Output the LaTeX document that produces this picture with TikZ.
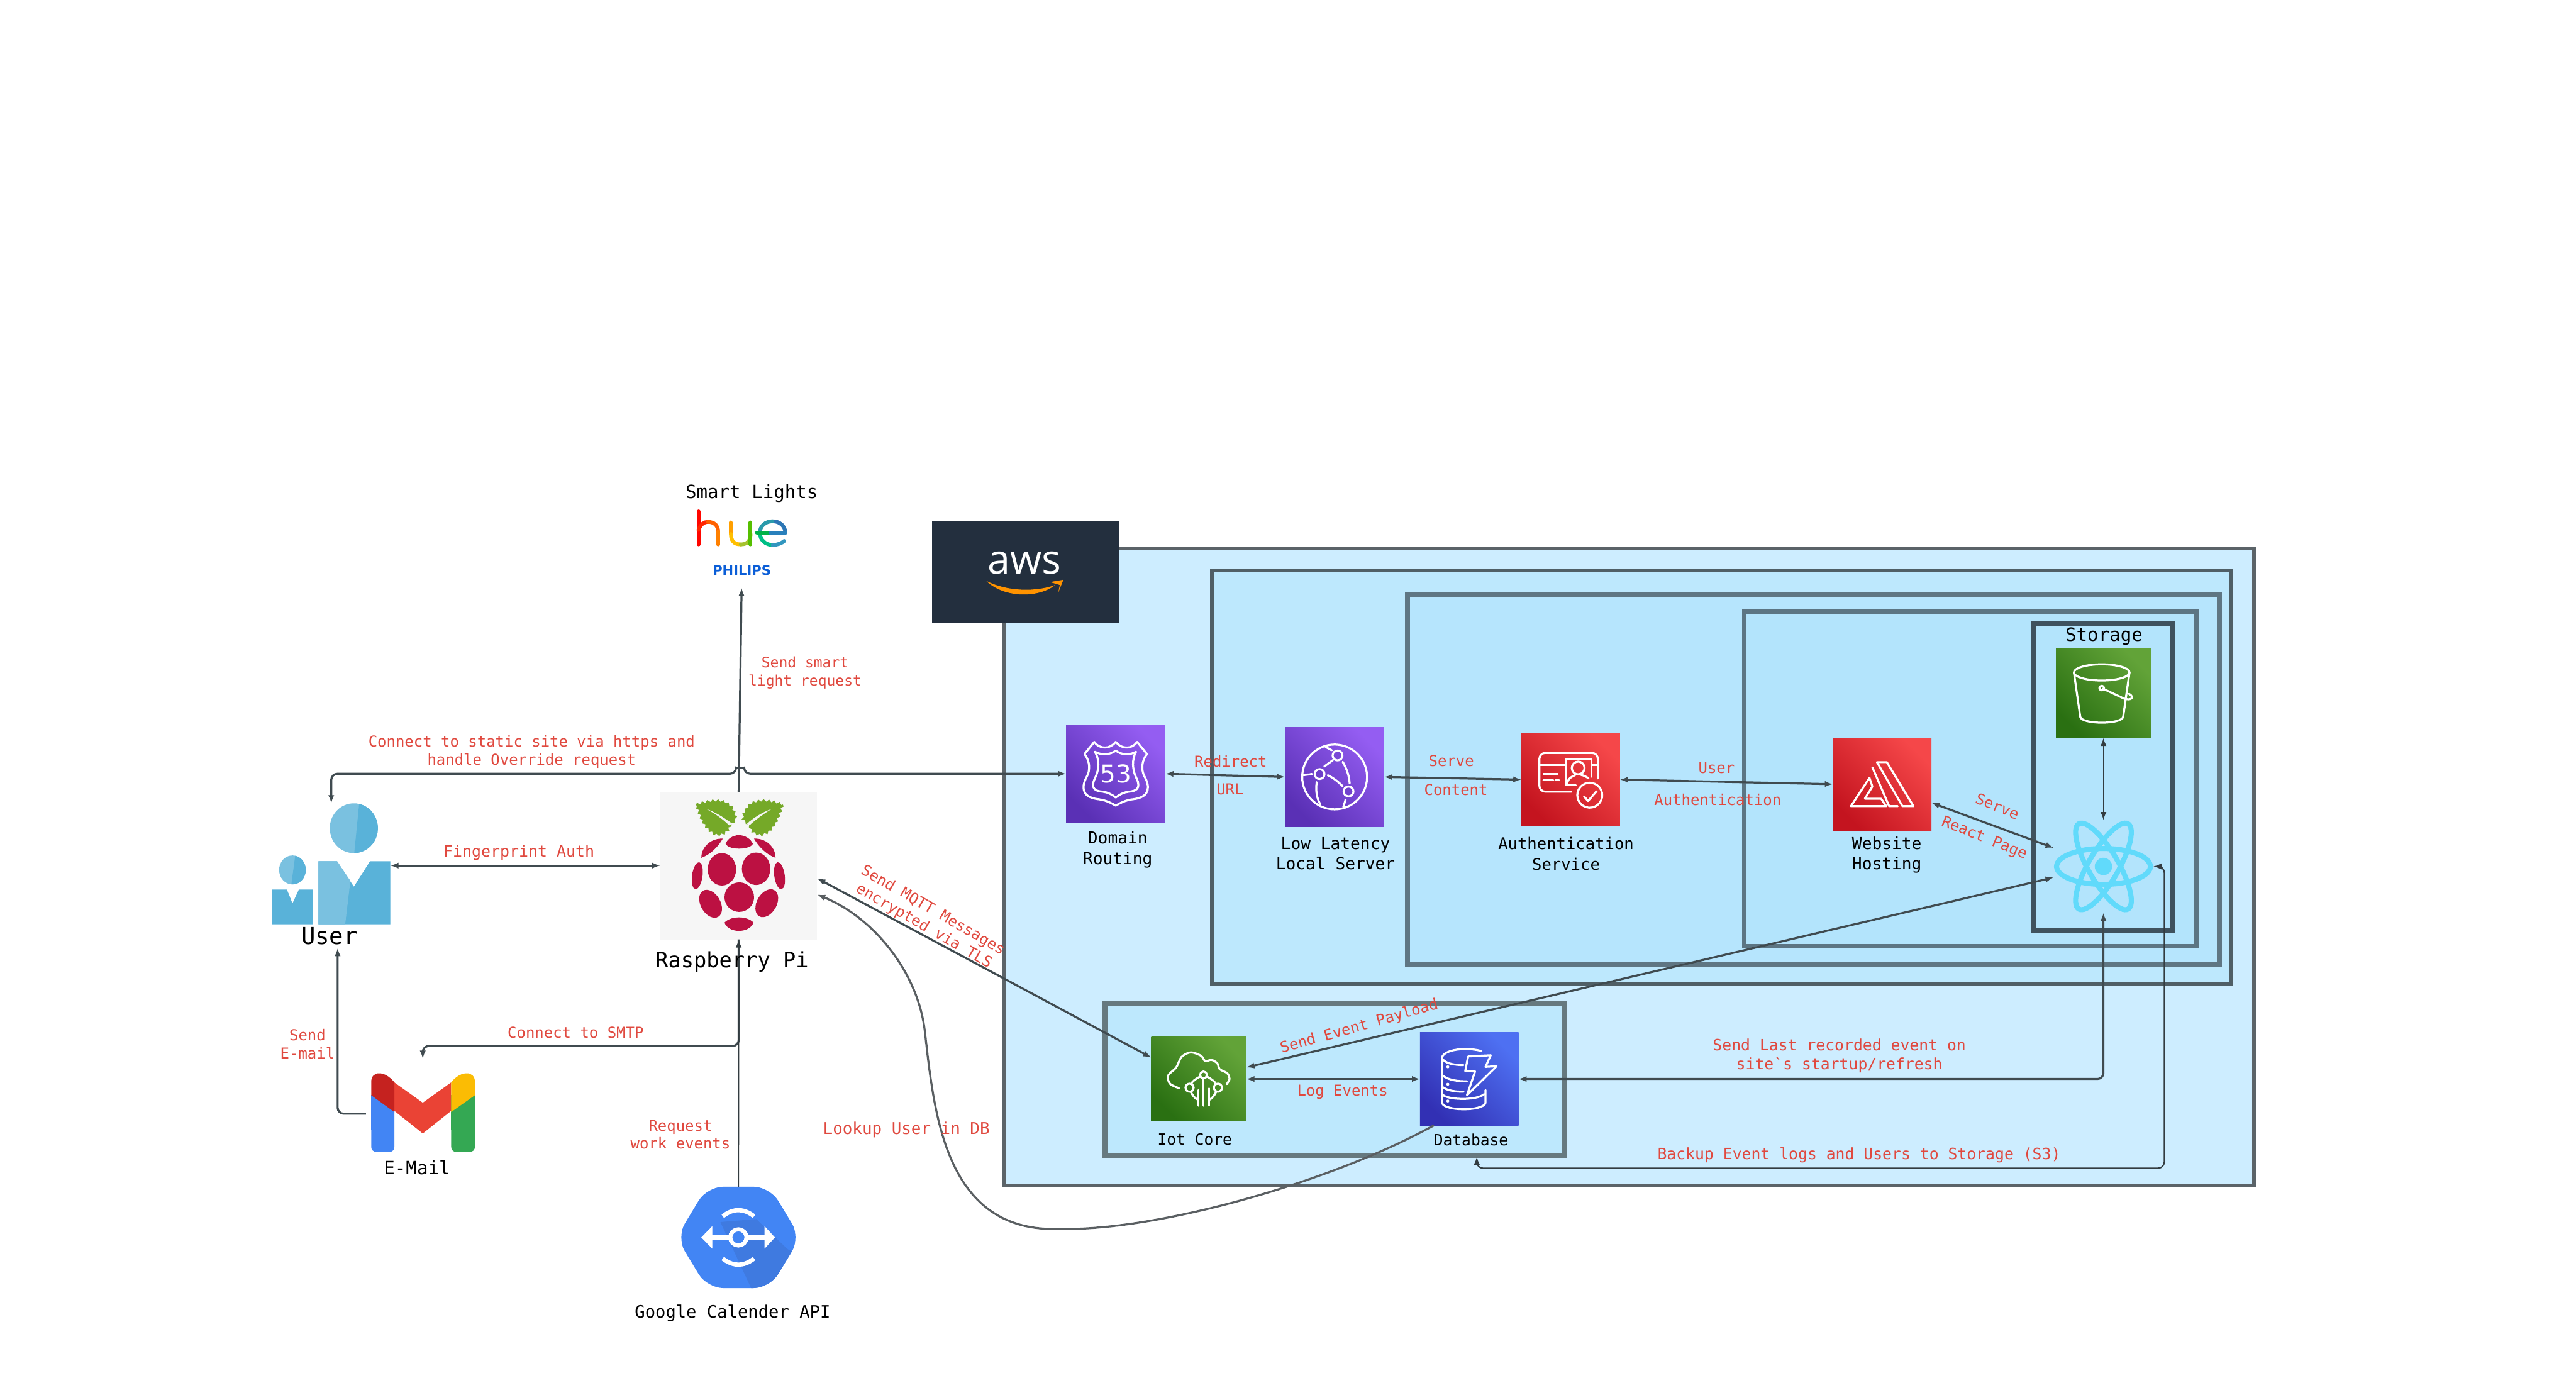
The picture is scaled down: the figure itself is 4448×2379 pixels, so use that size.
\documentclass[tikz,border=0pt]{standalone}
\usepackage{fontspec}
\setmainfont{DejaVu Sans Mono}
\newfontfamily\glyphfont{DejaVu Sans}
\newfontfamily\awsfont{Open Sans}
\usetikzlibrary{arrows.meta,decorations.pathmorphing}
\definecolor{lblred}{HTML}{E0493F}
\definecolor{connline}{HTML}{404B50}
\definecolor{curveline}{HTML}{5A5F62}
\definecolor{awsdark}{HTML}{232F3E}
\definecolor{userlight}{HTML}{7AC1E0}
\definecolor{userdark}{HTML}{59B2D9}
\definecolor{berry}{HTML}{BC1142}
\definecolor{leaf}{HTML}{75A928}
\definecolor{reactblue}{HTML}{61DAFB}
\definecolor{gblue}{HTML}{4285F4}
\definecolor{gblued}{HTML}{3F7AE0}
\definecolor{ggreen}{HTML}{34A853}
\definecolor{gred}{HTML}{EA4335}
\definecolor{gredd}{HTML}{C5221F}
\definecolor{gyellow}{HTML}{FBBC04}
\definecolor{purplelo}{HTML}{5A30B5}
\definecolor{purplehi}{HTML}{945DF2}
\definecolor{redlo}{HTML}{C4141F}
\definecolor{redhi}{HTML}{F54749}
\definecolor{greenlo}{HTML}{2A7012}
\definecolor{greenhi}{HTML}{62A338}
\definecolor{bluelo}{HTML}{3230B4}
\definecolor{bluehi}{HTML}{4E70F2}
\tikzset{
    lbl/.style={text=lblred, font=\fontsize{7.4}{8.9}\selectfont, align=center, inner sep=0pt, yshift=-0.3mm},
    capt/.style={text=black, font=\fontsize{8.1}{10}\selectfont, align=center, inner sep=0pt, yshift=-0.3mm},
    awsicon/.style n args={4}{minimum width=#1mm, minimum height=#2mm, inner sep=0pt, outer sep=0pt, bottom color=#3, top color=#4, shading angle=-45},
    spot/.style 2 args={minimum width=#1mm, minimum height=#2mm, inner sep=0pt, outer sep=0pt},
    conn/.style={draw=connline, line width=1pt, rounded corners=3pt},
    thinconn/.style={draw=connline!80!black, line width=0.65pt, rounded corners=3pt},
    glyph/.style={draw=white, line width=1pt, line cap=round, line join=round},
    huestroke/.style={line width=1.85pt, line cap=round},
}
\begin{document}
\begin{tikzpicture}[x=0.1mm, y=-0.1mm, >={Latex[length=4pt,width=3pt]}]
    \useasboundingbox (0,0) rectangle (4448,2379);
    \filldraw[fill=white, draw=none] (0,0) rectangle (4448,2379);

    \filldraw[fill={rgb,255:red,205;green,237;blue,255}, draw={rgb,255:red,91;green,99;blue,104}, line width=1.7pt] (1733,947) rectangle (3892,2047);
    \filldraw[fill={rgb,255:red,189;green,232;blue,253}, draw={rgb,255:red,80;green,95;blue,102}, line width=1.8pt] (2093,985) rectangle (3852,1698);
    \filldraw[fill={rgb,255:red,182;green,229;blue,253}, draw={rgb,255:red,95;green,118;blue,131}, line width=2.6pt] (2430,1027) rectangle (3832,1666);
    \filldraw[fill={rgb,255:red,179;green,228;blue,252}, draw={rgb,255:red,92;green,117;blue,131}, line width=2.1pt] (3012,1056) rectangle (3793,1634);
    \draw[draw={rgb,255:red,63;green,82;blue,94}, line width=2.5pt] (3512,1076) rectangle (3752,1607);
    \filldraw[fill={rgb,255:red,189;green,232;blue,253}, draw={rgb,255:red,102;green,121;blue,127}, line width=2.3pt] (1908,1732) rectangle (2702,1995);

    \fill[awsdark] (1609,899) rectangle (1933,1075);
    \node[text=white, inner sep=0pt, font=\awsfont\fontsize{20}{20}\selectfont] (awstxt) at (1769,972) {aws};
    \fill[orange!85!yellow] (1703,1003) .. controls (1740,1022) and (1790,1022) .. (1822,1010) .. controls (1795,1032) and (1735,1034) .. cycle;
    \fill[orange!85!yellow] (1813,1005) -- (1836,1001) -- (1827,1024) -- (1830,1010) -- cycle;

    \node[awsicon={17.1}{17.0}{purplelo}{purplehi}] (route) at (1926.5,1336) {};
    \node[awsicon={17.1}{17.1}{purplelo}{purplehi}] (cdn) at (2304.5,1341.5) {};
    \node[awsicon={17.0}{16.0}{redlo}{redhi}] (auth) at (2712,1346) {};
    \node[awsicon={17.0}{16.0}{redlo}{redhi}] (web) at (3250,1354) {};
    \node[awsicon={16.4}{15.4}{greenlo}{greenhi}] (bucket) at (3632,1197) {};
    \node[awsicon={16.4}{14.6}{greenlo}{greenhi}] (iot) at (2070,1863) {};
    \node[awsicon={17.0}{16.0}{bluelo}{bluehi}] (db) at (2537,1863) {};

    \begin{scope}[shift={(route.center)}]
        \draw[glyph] (-37,-55) .. controls (-28,-42) and (-10,-42) .. (0,-55) .. controls (10,-42) and (28,-42) .. (37,-55) -- (54,-34) .. controls (44,-22) and (44,-5) .. (50,5) .. controls (58,20) and (62,40) .. (30,44) .. controls (20,45) and (10,49) .. (0,55) .. controls (-10,49) and (-20,45) .. (-30,44) .. controls (-62,40) and (-58,20) .. (-50,5) .. controls (-44,-5) and (-44,-22) .. (-54,-34) -- cycle;
        \draw[glyph] (-36,-38) .. controls (-25,-32) and (-10,-32) .. (0,-40) .. controls (10,-32) and (25,-32) .. (35,-38) .. controls (28,-25) and (28,-8) .. (36,8) .. controls (44,25) and (36,30) .. (22,31) .. controls (14,32) and (6,36) .. (0,41) .. controls (-6,36) and (-14,32) .. (-22,31) .. controls (-36,30) and (-44,25) .. (-36,8) .. controls (-28,-8) and (-28,-25) .. (-36,-38) -- cycle;
        \node[text=white, inner sep=0pt, font=\glyphfont\fontsize{12}{12}\selectfont] (fiftythree) at (0,0) {53};
    \end{scope}

    \begin{scope}[shift={(cdn.center)}]
        \draw[glyph] (0,0) circle (56);
        \filldraw[glyph, fill=purplehi!55!purplelo] (5,-37) circle (8.5);
        \filldraw[glyph, fill=purplehi!35!purplelo] (-26,-5) circle (8.5);
        \filldraw[glyph, fill=purplehi!40!purplelo] (24,25) circle (8.5);
        \draw[glyph] (-3,-29) -- (-18,-18);
        \draw[glyph] (-12,-3) .. controls (-3,1) and (6,8) .. (14,16);
        \draw[glyph] (14,-26) .. controls (21,-14) and (25,-2) .. (26,11);
        \draw[glyph] (-55,-3) -- (-39,-5);
        \draw[glyph] (-31,9) .. controls (-33,24) and (-31,36) .. (-25,47);
        \draw[glyph] (19,39) -- (15,52);
        \draw[glyph] (-16,-52) -- (-5,-46);
    \end{scope}

    \begin{scope}[shift={(auth.center)}]
        \draw[glyph, rounded corners=3pt] (1,21) -- (-54,21) -- (-54,-46) -- (47,-46) -- (47,-2);
        \draw[glyph] (-54,-25) -- (-8,-25);
        \draw[glyph] (37,-25) -- (47,-25);
        \draw[glyph] (36,-5) -- (36,-36) -- (-8,-36) -- (-8,10) -- (9,10);
        \draw[glyph] (13,-20) circle (11);
        \draw[glyph] (-6,9) .. controls (-6,-4) and (6,-6) .. (8,-8);
        \draw[glyph] (18,-8) .. controls (24,-7) and (28,-4) .. (31,-2);
        \draw[glyph] (-47,-10) -- (-22,-10);
        \draw[glyph] (-47,1) -- (-30,1);
        \draw[glyph] (-26,1) -- (-20,1);
        \draw[glyph] (33,27) circle (21.5);
        \draw[glyph] (23,29) -- (30,37) -- (45,20);
    \end{scope}

    \begin{scope}[shift={(web.center)}]
        \draw[glyph] (-9,-38) -- (8,-38) -- (54,38) -- (35,38) -- cycle;
        \draw[glyph] (-17,-29) -- (12,38) -- (27,38);
        \draw[glyph] (-22,-11) -- (-54,38) -- (7,38) -- (-2,25) -- (-30,25) -- (-17,4) -- cycle;
    \end{scope}

    \begin{scope}[shift={(bucket.center)}]
        \draw[glyph] (-3,-36) ellipse [x radius=48, y radius=14];
        \draw[glyph] (-51,-36) -- (-40,41) .. controls (-36,54) and (30,54) .. (34,41) -- (45,-36);
        \draw[glyph] (-3,-9) circle (4);
        \draw[glyph] (-1,-8) -- (35,9) .. controls (49,14) and (54,6) .. (44,1);
    \end{scope}

    \begin{scope}[shift={(iot.center)}]
        \draw[glyph] plot[smooth] coordinates {(-34,16) (-50,8) (-53,-6) (-39,-20) (-30,-38) (-14,-46) (4,-40) (11,-31) (22,-33) (32,-27) (36,-17) (49,-10) (53,0) (48,9)};
        \draw[glyph] (8,-7) circle (6);
        \draw[glyph] (-16,15) circle (7);
        \draw[glyph] (33,15) circle (7);
        \draw[glyph] (2,-4) .. controls (-6,0) and (-11,4) .. (-13,8);
        \draw[glyph] (14,-4) .. controls (22,0) and (27,4) .. (29,8);
        \draw[glyph] (8,-1) -- (8,46);
        \draw[glyph] (-1,19) -- (-1,46);
        \draw[glyph] (18,16) -- (18,46);
        \draw[glyph] (-14,22) .. controls (-10,30) and (-6,34) .. (-1,36);
        \draw[glyph] (30,22) .. controls (26,30) and (22,34) .. (18,36);
    \end{scope}

    \begin{scope}[shift={(db.center)}]
        \draw[glyph] (21,-48) .. controls (5,-54) and (-40,-54) .. (-47,-38) -- (-47,41) .. controls (-44,56) and (25,56) .. (28,41) -- (28,19);
        \draw[glyph] (-45,-33) .. controls (-38,-26) and (-24,-24) .. (-10,-24);
        \draw[glyph] (-46,-6) .. controls (-36,2) and (-20,4) .. (-4,4);
        \draw[glyph] (-46,14) .. controls (-38,20) and (-24,22) .. (-10,22);
        \draw[glyph] (-46,27) .. controls (-38,36) and (12,38) .. (26,26);
        \fill[white] (-37,-21) circle (2.6);
        \fill[white] (-37,9) circle (2.6);
        \fill[white] (-37,38) circle (2.6);
        \draw[glyph] (-2,-39) -- (37,-41) -- (28,-21) -- (47,-22) -- (-4,28) -- (10,-13) -- (-7,-14) -- cycle;
    \end{scope}

    \node[spot={20.4}{20.9}] (user) at (572,1491.5) {};
    \fill[userlight] (505,1502) ellipse [x radius=23, y radius=25];
    \begin{scope}
        \clip (505,1502) ellipse [x radius=23, y radius=25];
        \fill[userdark] (510,1476) -- (530,1476) -- (530,1528) -- (503,1528) -- cycle;
    \end{scope}
    \fill[userdark] (470,1536) -- (495.5,1536) -- (505,1560) -- (516,1536) -- (540,1536) -- (540,1596) -- (470,1596) -- cycle;
    \fill[userlight] (611,1430) ellipse [x radius=41.5, y radius=43];
    \begin{scope}
        \clip (611,1430) ellipse [x radius=41.5, y radius=43];
        \fill[userdark] (621,1380) -- (660,1380) -- (660,1480) -- (611,1480) -- cycle;
    \end{scope}
    \fill[userdark] (550,1487) -- (582,1487) -- (611,1531) -- (639,1487) -- (674,1487) -- (674,1596) -- (550,1596) -- cycle;
    \fill[userlight] (550,1487) -- (582,1487) -- (605,1521) -- (596,1596) -- (550,1596) -- cycle;

    \node[spot={27.1}{25.5}, fill={rgb,255:red,246;green,246;blue,246}] (pi) at (1275.5,1494.5) {};
    \fill[leaf, decorate, decoration={zigzag, segment length=2.6pt, amplitude=0.6pt}] (1202,1389) .. controls (1220,1382) and (1245,1378) .. (1258,1388) .. controls (1268,1396) and (1272,1408) .. (1270,1416) -- (1265,1422) -- (1260,1427) .. controls (1258,1436) and (1250,1441) .. (1240,1442) .. controls (1225,1440) and (1212,1425) .. (1202,1389) -- cycle;
    \fill[leaf, decorate, decoration={zigzag, segment length=2.6pt, amplitude=0.6pt}] (1352,1389) .. controls (1334,1382) and (1309,1378) .. (1296,1388) .. controls (1286,1396) and (1281,1408) .. (1283,1416) -- (1290,1422) -- (1294,1427) .. controls (1296,1436) and (1304,1441) .. (1314,1442) .. controls (1329,1440) and (1342,1425) .. (1352,1389) -- cycle;
    \fill[white!96!black] (1220,1397) .. controls (1235,1402) and (1252,1413) .. (1264,1422) -- (1259,1425) .. controls (1248,1414) and (1235,1405) .. cycle;
    \fill[white!96!black] (1332,1397) .. controls (1317,1402) and (1300,1413) .. (1290,1422) -- (1294,1425) .. controls (1306,1414) and (1319,1405) .. cycle;
    \fill[berry] (1253,1457) .. controls (1256,1448) and (1266,1442) .. (1276,1442) .. controls (1286,1442) and (1296,1448) .. (1300,1457) .. controls (1294,1468) and (1258,1468) .. cycle;
    \fill[berry] (1211,1481) .. controls (1211,1462) and (1228,1447) .. (1248,1448) .. controls (1240,1462) and (1226,1476) .. cycle;
    \fill[berry] (1339,1481) .. controls (1339,1462) and (1322,1447) .. (1302,1448) .. controls (1310,1462) and (1324,1476) .. cycle;
    \fill[berry] (1246.5,1501) ellipse [x radius=24.5, y radius=28];
    \fill[berry] (1305.5,1500) ellipse [x radius=24.5, y radius=28];
    \fill[berry] (1276.5,1549) circle (25.5);
    \fill[berry, rotate around={30:(1227,1560.5)}] (1227,1560.5) ellipse [x radius=17, y radius=26];
    \fill[berry, rotate around={-30:(1324,1559.5)}] (1324,1559.5) ellipse [x radius=17, y radius=26];
    \fill[berry, rotate around={-8:(1204,1512)}] (1204,1512) ellipse [x radius=9, y radius=23.5];
    \fill[berry, rotate around={8:(1346,1512)}] (1346,1512) ellipse [x radius=9, y radius=23.5];
    \fill[berry] (1251,1593) .. controls (1262,1581) and (1290,1581) .. (1301,1593) .. controls (1294,1612) and (1258,1612) .. cycle;

    \node[spot={15.5}{13.4}] (hue) at (1280.5,948) {};
    \draw[huestroke, color=red!95!orange] (1206,883) -- (1206,940);
    \draw[huestroke, color=red!70!orange] (1206,915) .. controls (1210,905) and (1216,901) .. (1222,901);
    \draw[huestroke, color=red!25!orange] (1222,901) .. controls (1234,901) and (1240,908) .. (1240,918);
    \draw[huestroke, color=orange] (1240,918) -- (1240,940);
    \draw[huestroke, color=orange!75!yellow] (1262,902) -- (1262,922);
    \draw[huestroke, color=orange!50!yellow] (1262,922) .. controls (1262,934) and (1268,940) .. (1279,940);
    \draw[huestroke, color=yellow!70!green!85!black] (1279,940) .. controls (1290,940) and (1296,934) .. (1296,922);
    \draw[huestroke, color=green!55!yellow!75!black] (1296,902) -- (1296,940);
    \draw[huestroke, color=cyan!60!blue!85!black] (1356,920) .. controls (1356,908) and (1346,900) .. (1334,900);
    \draw[huestroke, color=cyan!75!green!80!black] (1334,900) .. controls (1322,900) and (1312,908) .. (1312,920);
    \draw[huestroke, color=green!30!cyan!75!black] (1312,920) .. controls (1312,932) and (1322,941) .. (1334,941);
    \draw[huestroke, color=cyan!75!black] (1334,941) .. controls (1342,941) and (1350,938) .. (1354,934);
    \draw[huestroke, color=green!60!cyan!70!black] (1307,920) -- (1330,920);
    \draw[huestroke, color=cyan!70!blue!85!black] (1330,920) -- (1356,920);
    \node[text={rgb,255:red,11;green,94;blue,215}, inner sep=0pt, font=\glyphfont\bfseries\fontsize{6.5}{7}\selectfont] (philips) at (1281,984.5) {PHILIPS};

    \node[spot={17.9}{13.5}] (mail) at (730.5,1921.5) {};
    \fill[gblue, rounded corners=2.5pt] (641,1891) -- (681,1891) -- (681,1989) -- (641,1989) -- cycle;
    \fill[ggreen, rounded corners=2.5pt] (779,1891) -- (820,1891) -- (820,1989) -- (779,1989) -- cycle;
    \fill[gblue] (641,1891) -- (681,1891) -- (681,1950) -- (641,1950) -- cycle;
    \fill[ggreen] (779,1891) -- (820,1891) -- (820,1950) -- (779,1950) -- cycle;
    \fill[gred] (681,1869) -- (730,1904) -- (779,1869) -- (779,1918) -- (730,1957) -- (681,1918) -- cycle;
    \fill[gredd] (641,1891) -- (641,1868) .. controls (641,1848) and (665,1848) .. (681,1869) -- (681,1920) -- cycle;
    \fill[gyellow] (820,1891) -- (820,1868) .. controls (820,1848) and (795,1848) .. (779,1869) -- (779,1920) -- cycle;

    \node[spot={19.6}{17.5}] (gcal) at (1275,2136.5) {};
    \begin{scope}
        \clip[rounded corners=8pt] (1221,2049) -- (1329,2049) -- (1382,2136.5) -- (1329,2224) -- (1221,2224) -- (1168,2136.5) -- cycle;
        \fill[gblue] (1160,2040) rectangle (1390,2230);
        \fill[gblued] (1244,2110) -- (1297,2224) -- (1390,2224) -- (1390,2170) -- (1360,2157) -- (1306,2105) -- cycle;
    \end{scope}
    \draw[white, line width=2.1pt] (1248,2100) .. controls (1266,2086) and (1284,2086) .. (1302,2100);
    \draw[white, line width=2.1pt] (1248,2173) .. controls (1266,2187) and (1284,2187) .. (1302,2173);
    \draw[white, line width=2.6pt] (1225,2136.5) -- (1325,2136.5);
    \fill[white] (1211,2136.5) -- (1230,2117) -- (1230,2156) -- cycle;
    \fill[white] (1338,2136.5) -- (1320,2117) -- (1320,2156) -- cycle;
    \filldraw[draw=white, fill=gblue, line width=2pt] (1275,2136.5) circle (14);

    \node[spot={17.2}{16}] (react) at (3632,1496) {};
    \draw[reactblue, line width=2.5pt] (react.center) ellipse [x radius=81, y radius=31];
    \draw[reactblue, line width=2.5pt, rotate around={60:(react.center)}] (react.center) ellipse [x radius=85, y radius=26];
    \draw[reactblue, line width=2.5pt, rotate around={-60:(react.center)}] (react.center) ellipse [x radius=85, y radius=26];
    \fill[reactblue] (react.center) circle (15);

    \coordinate (mailout) at (632,1923);
    \coordinate (userin) at (583,1637);
    \coordinate (dbin) at (2550,1997);

    \draw[conn, <->] (route.west) -- (1285,1336) .. controls (1285,1326) and (1271,1326) .. (1271,1336) -- (572,1336) -- (user.north);
    \draw[conn, <->] (user.east |- pi.west) -- (pi.west);
    \draw[conn, ->] (pi.north) -- (hue.south);
    \draw[conn, ->] (mailout) -- (583,1923) -- (userin);
    \draw[conn, ->] (pi.south) -- (1275.5,1806) -- (730,1806) -- (730,1828);
    \draw[thinconn, ->] (gcal.north) -- (pi.south);
    \draw[conn, <->] ([yshift=-2.2mm]pi.east) -- ([yshift=3.7mm]iot.west);
    \draw[conn, draw=curveline, ->] ([xshift=2.4mm]db.south west) .. controls (2300,2040) and (2010,2122) .. (1830,2122) .. controls (1640,2122) and (1615,1940) .. (1598,1790) .. controls (1585,1680) and (1510,1585) .. ([yshift=-5mm]pi.east);
    \draw[conn, <->] (route.east) -- (cdn.west);
    \draw[conn, <->] (cdn.east) -- (auth.west);
    \draw[conn, <->] (auth.east) -- (web.west);
    \draw[conn, <->] ([yshift=-3.2mm]web.east) -- ([yshift=3.2mm]react.west);
    \draw[thinconn, <->] (bucket.south) -- (react.north);
    \draw[conn, <->] ([yshift=2mm]iot.east) -- ([yshift=-1.9mm]react.west);
    \draw[conn, <->] (iot.east) -- (db.west);
    \draw[conn, <->] (db.east) -- (3632,1863) -- (react.south);
    \draw[thinconn, <->] (dbin) -- (2550,2017) -- (3737,2017) -- (3737,1496) -- (react.east);

    \node[capt, font=\fontsize{9}{11}\selectfont] (lights) at (1298,849) {Smart Lights};
    \node[capt, font=\fontsize{11.5}{13}\selectfont] (usercap) at (569,1613) {User};
    \node[capt, font=\fontsize{10.4}{12}\selectfont] (picap) at (1264,1658) {Raspberry Pi};
    \node[capt, font=\fontsize{9}{11}\selectfont] (mailcap) at (720,2013) {E-Mail};
    \node[capt, font=\fontsize{8.4}{10}\selectfont] (gcalcap) at (1265,2264) {Google Calender API};
    \node[capt] (routecap) at (1930,1464) {Domain\\Routing};
    \node[capt] (cdncap) at (2306,1471) {Low Latency\\Local Server};
    \node[capt, font=\fontsize{7.9}{10}\selectfont] (authcap) at (2704,1471) {Authentication\\Service};
    \node[capt] (webcap) at (3258,1473) {Website\\Hosting};
    \node[capt, font=\fontsize{9}{11}\selectfont] (storecap) at (3633,1096) {Storage};
    \node[capt, font=\fontsize{7.6}{10}\selectfont] (iotcap) at (2063,1964) {Iot Core};
    \node[capt, font=\fontsize{7.6}{10}\selectfont] (dbcap) at (2540,1965) {Database};

    \node[lbl, font=\fontsize{7.1}{8.9}\selectfont] (lblsmart) at (1390,1159) {Send smart\\light request};
    \node[lbl] (lblsite) at (918,1295) {Connect to static site via https and\\handle Override request};
    \node[lbl, font=\fontsize{7.7}{9}\selectfont] (lblfinger) at (896,1469) {Fingerprint Auth};
    \node[lbl] (lblsend) at (531,1800) {Send\\E-mail};
    \node[lbl] (lblsmtp) at (994,1780) {Connect to SMTP};
    \node[lbl] (lblwork) at (1175,1956) {Request\\work events};
    \node[lbl, font=\fontsize{8}{9}\selectfont] (lbllookup) at (1565,1948) {Lookup User in DB};
    \node[lbl, rotate=-30] (lblmqtt) at (1603,1583) {Send MQTT Messages\\encrypted via TLS};
    \node[lbl] (lblredirect) at (2125,1312) {Redirect};
    \node[lbl] (lblurl) at (2124,1360) {URL};
    \node[lbl] (lblserve) at (2506,1311) {Serve};
    \node[lbl] (lblcontent) at (2514,1361) {Content};
    \node[lbl] (lbluser) at (2964,1323) {User};
    \node[lbl] (lblauth) at (2966,1378) {Authentication};
    \node[lbl, rotate=-22] (lblreact) at (3449,1389) {Serve};
    \node[lbl, rotate=-22] (lblpage) at (3426,1445) {React Page};
    \node[lbl, rotate=16] (lblpayload) at (2347,1770) {Send Event Payload};
    \node[lbl] (lbllog) at (2318,1882) {Log Events};
    \node[lbl, font=\fontsize{7.65}{9.2}\selectfont] (lbllast) at (3176,1820) {Send Last recorded event on\\site{\textasciigrave}s startup/refresh};
    \node[lbl, font=\fontsize{7.65}{9}\selectfont] (lblbackup) at (3210,1991) {Backup Event logs and Users to Storage (S3)};
\end{tikzpicture}
\end{document}
